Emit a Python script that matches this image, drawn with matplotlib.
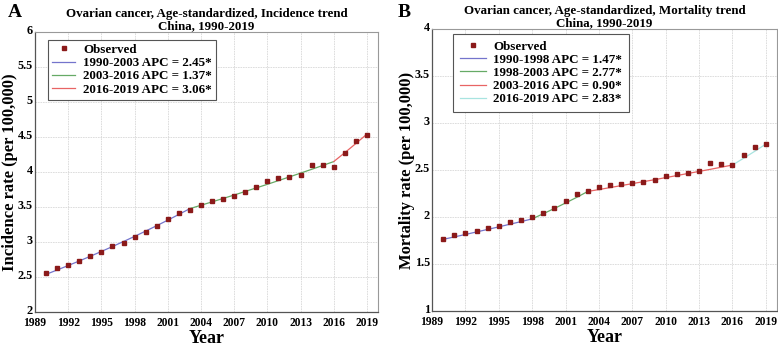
import matplotlib
matplotlib.use("Agg")
import matplotlib.pyplot as plt
from matplotlib.transforms import ScaledTranslation

years = list(range(1990, 2020))

inc_obs = [2.557, 2.628, 2.671, 2.723, 2.794, 2.855, 2.936, 2.988, 3.069, 3.149,
           3.225, 3.329, 3.419, 3.462, 3.533, 3.585, 3.614, 3.661, 3.709, 3.780,
           3.865, 3.912, 3.922, 3.960, 4.102, 4.102, 4.073, 4.268, 4.443, 4.528]
# fitted (joinpoint) values per segment
inc_seg_years = [list(range(1990, 2004)), list(range(2003, 2017)), list(range(2016, 2020))]
inc_seg_fit = [
    [2.538, 2.600, 2.664, 2.729, 2.796, 2.865, 2.935, 3.007, 3.080, 3.156, 3.233, 3.312, 3.394, 3.477],
    [3.477, 3.525, 3.573, 3.622, 3.671, 3.722, 3.773, 3.824, 3.877, 3.930, 3.984, 4.038, 4.093, 4.149],
    [4.149, 4.276, 4.407, 4.542],
]
inc_seg_labels = ["1990-2003 APC = 2.45*", "2003-2016 APC = 1.37*", "2016-2019 APC = 3.06*"]
inc_seg_colors = ["#7474cc", "#66aa66", "#e86464"]

mort_obs = [1.766, 1.805, 1.826, 1.855, 1.883, 1.908, 1.943, 1.965, 1.996, 2.043,
            2.092, 2.170, 2.241, 2.280, 2.323, 2.344, 2.351, 2.362, 2.376, 2.394,
            2.436, 2.461, 2.468, 2.486, 2.571, 2.567, 2.553, 2.656, 2.741, 2.777]
mort_seg_years = [list(range(1990, 1999)), list(range(1998, 2004)),
                  list(range(2003, 2017)), list(range(2016, 2020))]
mort_seg_fit = [
    [1.762, 1.788, 1.814, 1.841, 1.868, 1.895, 1.923, 1.951, 1.980],
    [1.980, 2.035, 2.091, 2.149, 2.209, 2.272],
    [2.272, 2.292, 2.313, 2.334, 2.355, 2.376, 2.397, 2.419, 2.441, 2.463, 2.485, 2.507, 2.530, 2.553],
    [2.553, 2.625, 2.699, 2.776],
]
mort_seg_labels = ["1990-1998 APC = 1.47*", "1998-2003 APC = 2.77*",
                   "2003-2016 APC = 0.90*", "2016-2019 APC = 2.83*"]
mort_seg_colors = ["#7474cc", "#66aa66", "#e86464", "#a8e4e0"]

xticks = list(range(1989, 2020, 3))

plt.rcParams['font.family'] = ['Liberation Serif', 'DejaVu Serif']
plt.rcParams['font.weight'] = 'bold'

fig = plt.figure(figsize=(7.78, 3.48), dpi=100)
W, H = 778, 348
ax1 = fig.add_axes([35 / W, 1 - 312 / H, (378 - 35) / W, (312 - 32) / H])
ax2 = fig.add_axes([432 / W, 1 - 311 / H, (777 - 432) / W, (311 - 29) / H])

def style(ax, ylim, yticks, ylabel, title):
    ax.set_xlim(1989, 2020)
    ax.set_ylim(*ylim)
    ax.set_xticks(xticks)
    ax.set_xticklabels([str(t) for t in xticks], fontsize=8.3, fontweight='bold')
    ax.set_yticks(yticks)
    ax.set_yticklabels([("%g" % t) for t in yticks], fontsize=8.8, fontweight='bold')
    ax.tick_params(length=0)
    ax.tick_params(axis='x', pad=3.5)
    ax.tick_params(axis='y', pad=1.5)
    shift = ScaledTranslation(0, 2.5 / 100, fig.dpi_scale_trans)
    for lab in ax.get_yticklabels():
        lab.set_transform(lab.get_transform() + shift)
    ax.grid(True, color="#d8d8d8", linestyle=(0, (2, 1)), linewidth=0.6)
    ax.set_axisbelow(True)
    for s in ['top', 'right']:
        ax.spines[s].set_color("#999999")
        ax.spines[s].set_linewidth(0.8)
    for s in ['left', 'bottom']:
        ax.spines[s].set_color("#555555")
        ax.spines[s].set_linewidth(0.9)
    ax.set_xlabel("Year", fontsize=13, fontweight='bold', labelpad=1)
    ax.set_ylabel(ylabel, fontsize=12, fontweight='bold', labelpad=0)
    ax.set_title(title, fontsize=9.4, fontweight='bold', pad=2, linespacing=1.05)

def draw(ax, obs, seg_years, seg_fit, labels, colors, anchor, bpad, hlen):
    ax.plot(years, obs, linestyle='none', marker='s', markersize=3.2,
            color='#8b1a1a', label='Observed', zorder=3)
    for yy, ff, lab, c in zip(seg_years, seg_fit, labels, colors):
        ax.plot(yy, ff, color=c, linewidth=0.9, label=lab, zorder=2)
    leg = ax.legend(loc='upper left', bbox_to_anchor=anchor,
                    prop={'weight': 'bold', 'size': 9.4}, handlelength=hlen,
                    handletextpad=0.6, labelspacing=0.08, borderpad=bpad,
                    fancybox=False, framealpha=1, edgecolor="#555555",
                    borderaxespad=0.0)
    leg.get_frame().set_linewidth(0.8)

style(ax1, (2, 6), [2, 2.5, 3, 3.5, 4, 4.5, 5, 5.5, 6], "Incidence rate (per 100,000)",
      "Ovarian cancer, Age-standardized, Incidence trend\nChina, 1990-2019")
draw(ax1, inc_obs, inc_seg_years, inc_seg_fit, inc_seg_labels, inc_seg_colors,
     (13 / 343, 1 - 8 / 280), 0.3, 1.8)

style(ax2, (1, 4), [1, 1.5, 2, 2.5, 3, 3.5, 4], "Mortality rate (per 100,000)",
      "Ovarian cancer, Age-standardized, Mortality trend\nChina, 1990-2019")
draw(ax2, mort_obs, mort_seg_years, mort_seg_fit, mort_seg_labels, mort_seg_colors,
     (21 / 345, 1 - 5 / 282), 0.5, 2.0)

fig.text(8 / W, 1 - 17 / H, "A", fontsize=14, fontweight='bold')
fig.text(398 / W, 1 - 17 / H, "B", fontsize=14, fontweight='bold')

fig.savefig("out.png", dpi=100)
